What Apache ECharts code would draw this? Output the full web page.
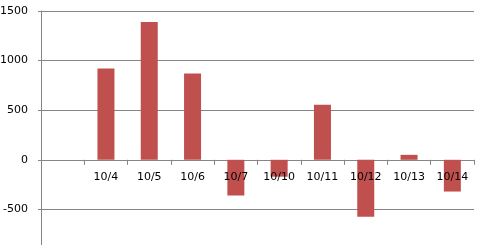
<!DOCTYPE html>
<html><head><meta charset="utf-8">
<script src="https://cdn.jsdelivr.net/npm/echarts@6/dist/echarts.min.js"></script>
<style>html,body{margin:0;padding:0;background:#fff;overflow:hidden}#c{width:487px;height:275px}</style>
</head><body><div id="c"></div>
<script>
var categories = ['', '10/4', '10/5', '10/6', '10/7', '10/10', '10/11', '10/12', '10/13', '10/14'];
var values = [null, 920, 1390, 870, -360, -170, 555, -575, 50, -320];
var yTicks = { min: -1000, max: 1500, interval: 500 };

var chart = echarts.init(document.getElementById('c'), null, { renderer: 'canvas' });
chart.setOption({
  animation: false,
  backgroundColor: '#ffffff',
  grid: { left: 41, right: 13, top: 11, bottom: 16, containLabel: false, outerBoundsMode: 'none' },
  xAxis: [{
    type: 'category',
    data: categories,
    boundaryGap: true,
    axisLine: { onZero: true, lineStyle: { color: '#868686', width: 1 } },
    axisTick: { show: true, length: 5, inside: false, lineStyle: { color: '#868686' }, interval: 0 },
    axisLabel: { show: false },
    splitLine: { show: false }
  }, {
    type: 'category',
    data: categories,
    position: 'bottom',
    offset: -99,
    z: 10,
    boundaryGap: true,
    axisLine: { show: false, onZero: false },
    axisTick: { show: false },
    axisLabel: { interval: 0, margin: 12, color: '#000000', fontFamily: 'DejaVu Sans', fontSize: 11 },
    splitLine: { show: false }
  }],
  yAxis: {
    type: 'value',
    min: yTicks.min, max: yTicks.max, interval: yTicks.interval,
    axisLine: { show: true, lineStyle: { color: '#868686', width: 1 } },
    axisTick: { show: true, length: 3, lineStyle: { color: '#868686' } },
    axisLabel: { margin: 13, color: '#000000', fontFamily: 'DejaVu Sans', fontSize: 11,
      formatter: function (v) { return String(v); } },
    splitLine: { show: true, lineStyle: { color: '#868686', width: 1 } }
  },
  series: [{
    type: 'bar',
    xAxisIndex: 0,
    data: values,
    barWidth: 17,
    itemStyle: { color: '#C0504D' }
  }]
});
</script>
</body></html>
